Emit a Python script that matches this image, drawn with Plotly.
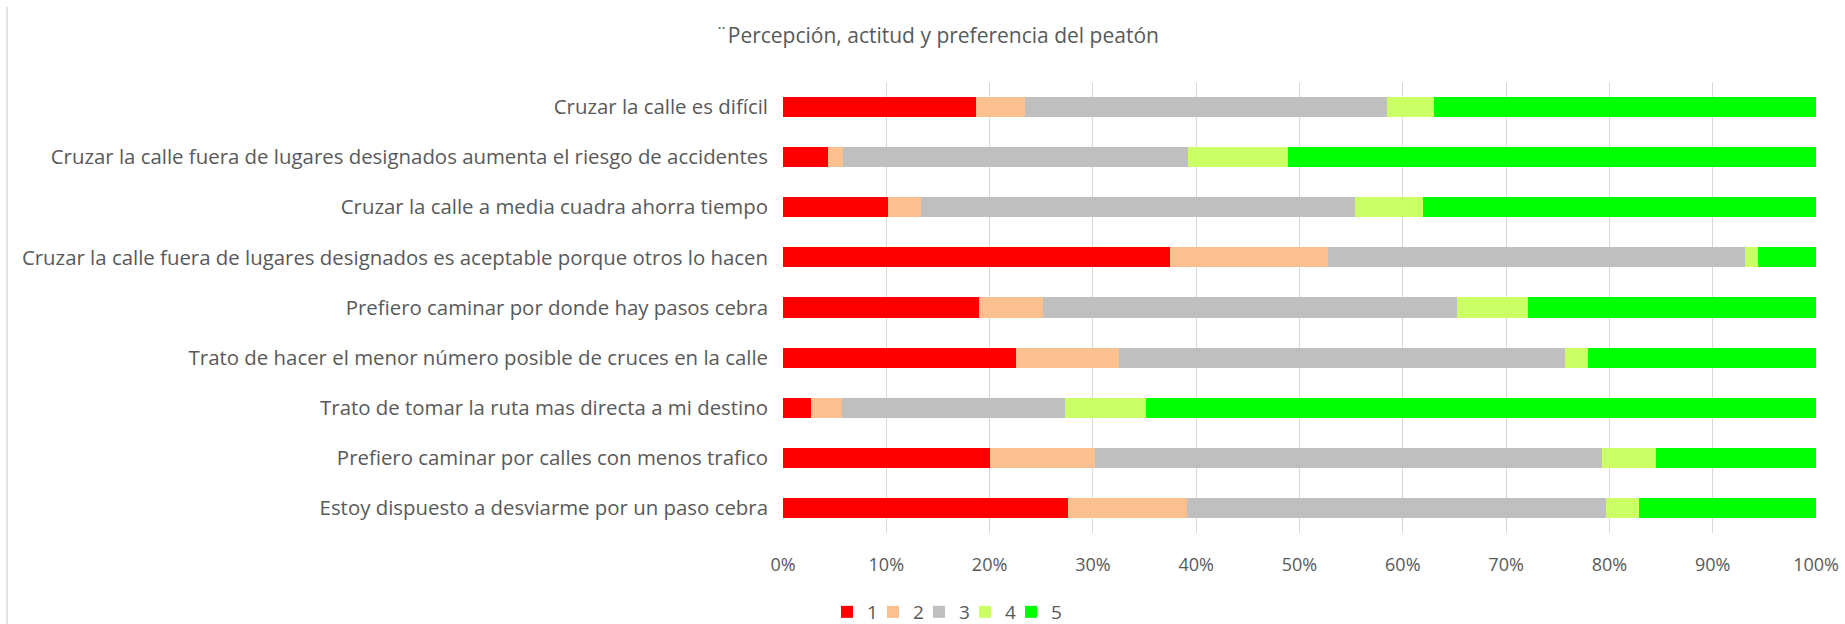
import plotly.graph_objects as go

# Survey statements (top to bottom)
statements = [
    "Cruzar la calle es difícil",
    "Cruzar la calle fuera de lugares designados aumenta el riesgo de accidentes",
    "Cruzar la calle a media cuadra ahorra tiempo",
    "Cruzar la calle fuera de lugares designados es aceptable porque otros lo hacen",
    "Prefiero caminar por donde hay pasos cebra",
    "Trato de hacer el menor número posible de cruces en la calle",
    "Trato de tomar la ruta mas directa a mi destino",
    "Prefiero caminar por calles con menos trafico",
    "Estoy dispuesto a desviarme por un paso cebra",
]

# Share of answers (%) for each Likert level
level_1 = [18.7, 4.4, 10.2, 37.5, 19.0, 22.6, 2.7, 20.0, 27.6]
level_2 = [4.7, 1.4, 3.2, 15.3, 6.2, 9.9, 3.0, 10.2, 11.5]
level_3 = [35.1, 33.4, 42.0, 40.3, 40.0, 43.2, 21.6, 49.1, 40.6]
level_4 = [4.5, 9.7, 6.6, 1.3, 6.9, 2.2, 7.8, 5.2, 3.2]
level_5 = [37.0, 51.1, 38.0, 5.6, 27.9, 22.1, 64.9, 15.5, 17.1]

levels = ["1", "2", "3", "4", "5"]
series = [level_1, level_2, level_3, level_4, level_5]
colors = ["#FF0000", "#FAC090", "#BFBFBF", "#CCFF66", "#00FF00"]

tick_vals = [0, 10, 20, 30, 40, 50, 60, 70, 80, 90, 100]
tick_text = ["0%", "10%", "20%", "30%", "40%", "50%", "60%", "70%", "80%", "90%", "100%"]

FONT = "Open Sans"
TEXT = "#595959"
W, H = 1845, 624

# plot area in pixels
L, R, T, B = 783, 1816, 82, 533
PW, PH = R - L, B - T

fig = go.Figure()
for i, (name, vals, col) in enumerate(zip(levels, series, colors)):
    last = i == len(levels) - 1
    fig.add_trace(go.Bar(
        y=statements, x=vals, name=name, orientation="h",
        marker=dict(color=col, line=dict(width=0)),
        # compact legend entries; the last one keeps room for its text
        legendwidth=None if last else 1,
    ))

fig.update_layout(
    barmode="stack",
    bargap=0.6,
    width=W, height=H,
    margin=dict(l=L, r=W - R, t=T, b=H - B),
    paper_bgcolor="white", plot_bgcolor="white",
    font=dict(family=FONT, size=19, color=TEXT),
    title=dict(
        text="¨Percepción, actitud y preferencia del peatón",
        x=0.508, xref="container", xanchor="center",
        y=1 - 36 / H, yref="container", yanchor="middle",
        font=dict(family=FONT, size=21, color=TEXT),
    ),
    legend=dict(
        orientation="h", traceorder="normal",
        x=827 / W, xref="container", xanchor="left",
        y=1 - 612 / H, yref="container", yanchor="middle",
        font=dict(family=FONT, size=19, color=TEXT),
        itemwidth=30, bgcolor="rgba(0,0,0,0)",
    ),
    xaxis=dict(
        range=[0, 100], tickvals=tick_vals, ticktext=tick_text,
        showgrid=True, gridcolor="#D9D9D9", gridwidth=1,
        zeroline=False, showline=False, automargin=False,
        ticks="outside", ticklen=15, tickcolor="rgba(0,0,0,0)",
        tickfont=dict(family=FONT, size=18, color=TEXT),
    ),
    yaxis=dict(
        autorange="reversed", showgrid=False, zeroline=False,
        showline=False, ticks="", ticklabelstandoff=14, automargin=False,
        tickfont=dict(family=FONT, size=20.4, color=TEXT),
    ),
    shapes=[
        dict(type="line", xref="paper", yref="paper",
             x0=(7 - L) / PW, x1=(7 - L) / PW,
             y0=(B - 7) / PH, y1=(B - H) / PH,
             line=dict(color="#D9D9D9", width=1.5)),
    ],
)

fig.write_html("out.html")
